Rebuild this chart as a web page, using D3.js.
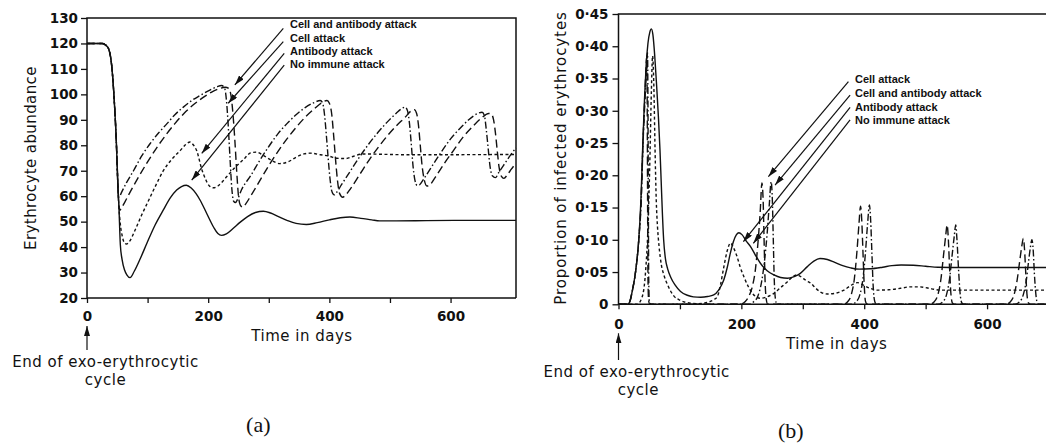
<!DOCTYPE html>
<html>
<head>
<meta charset="utf-8">
<script src="https://cdn.jsdelivr.net/npm/d3@7"></script>
<style>
  body { margin: 0; background: #fff; }
  svg { display: block; background: #fff; }
  .tick text { font-family: 'DejaVu Sans', sans-serif; font-weight: bold; font-size: 13.5px; fill: #111; }
  .tick line { stroke: #111; stroke-width: 1.3; }
  .axis-title { font-family: 'DejaVu Sans', sans-serif; font-size: 15px; fill: #111; letter-spacing: 0.5px; }
  .legend { font-family: 'Liberation Sans', Arial, sans-serif; font-weight: bold; font-size: 11px; fill: #111; }
  .caption { font-family: 'Liberation Serif', 'Times New Roman', serif; font-size: 22px; fill: #111; }
  .curve { fill: none; stroke: #111; stroke-width: 1.4; }
  .frame { fill: none; stroke: #111; stroke-width: 1.5; }
  .pointer { stroke: #111; stroke-width: 1.2; }
</style>
</head>
<body>
<svg width="1046" height="448"></svg>
<script>
// panel (a): erythrocyte abundance, [day, value]
const aNone = [[0,120],[25,120],[30,119.5],[35.6,117.9],[41,110.7],[45,97.5],[48.3,82],[50.5,67.6],[52.7,55.8],[55,41],[58,35],[62,31],[66,29],[71,28],[78,30.5],[88,35.5],[99,41.6],[112,48.5],[126,54.6],[138,59.5],[148,62.4],[156,63.8],[164,64.3],[172,63.2],[180,61],[187,58.3],[198,53],[209,47.8],[216,45.3],[222,44.6],[230,45.2],[241,47.3],[253,49.8],[265,52],[278,53.6],[291,54.1],[303,53.4],[316,52],[330,50.5],[345,49.3],[362,48.9],[380,49.6],[400,50.7],[418,51.5],[434,51.8],[452,51.3],[470,50.7],[483,50.3],[510,50.3],[560,50.4],[620,50.5],[708,50.5]];
const aAntibody = [[0,120],[25,120],[30,119.5],[35.6,117.9],[41,110.7],[45,97.5],[48.3,82],[50.5,67.6],[52.7,55.8],[55,49],[58,44.5],[61,42],[65,41.2],[70,42.2],[80,47],[90,52.5],[99,57],[112,63.5],[126,70],[140,74.5],[154,78],[163,80.3],[170,81.3],[176,80],[181,77.9],[189.5,70.5],[196,66.5],[202,64],[208.6,63.3],[216,64],[230,67.5],[245,71.5],[258,74.3],[270,77],[280,77.3],[291,76],[303,74.3],[318,72.8],[332,73.5],[345,75.3],[358,76.6],[368,76.9],[385,76.3],[400,75.7],[412,74.9],[427,74.8],[440,75.7],[455,76.6],[480,76.5],[520,76.3],[600,76.3],[708,76.4]];
const aCell = [[0,120],[25,120],[30,119.5],[35.6,117.9],[41,110.7],[45,97.5],[48.3,82],[50.5,67.6],[52,58],[54,54.4],[56,55],[62,57.5],[72,62],[85,67.5],[100,73.5],[115,79],[130,84],[145,88.5],[160,92.5],[175,95.8],[190,98.5],[205,100.8],[218,102.2],[228,102.8],[234,102.3],[238,99],[241,92],[244,82],[247,70],[250,60],[253,56.5],[257,55.7],[262,57],[270,60],[285,66],[300,72],[315,77.5],[330,82.5],[345,87],[360,91],[375,94.3],[388,96.8],[396,97.6],[400,96.5],[404,92],[407,84],[410,75],[413,67],[417,61],[422,59.6],[427,60.5],[435,63],[450,68.5],[465,74],[480,79],[495,83.5],[510,87.5],[525,91],[535,93.5],[540,94],[544,92.5],[547,88],[550,80],[553,72],[557,66],[561,64],[566,64.5],[575,67.5],[590,73],[605,78],[620,83],[635,87],[650,90.5],[663,92.5],[667,92.3],[671,90],[674,85],[677,78],[680,71.5],[684,67.8],[688,67],[694,68.5],[700,70.5],[708,73]];
const aBoth = [[0,120],[25,120],[30,119.5],[35.6,117.9],[41,110.7],[45,97.5],[48.3,82],[50,70],[51.5,60.5],[53,59.6],[57,61.5],[65,65.2],[77,70.1],[90,75.7],[104,80.6],[118,84.8],[132,88.5],[145,92],[159,95],[173,97.6],[187,99.6],[202,101.6],[214,102.9],[222,103.5],[227,102.5],[230,98],[233,88],[236,75],[239,63],[242,58],[245,57.5],[249,59],[255,62.5],[270,68],[285,74],[300,79.5],[315,84.5],[330,88.5],[345,92],[360,94.8],[375,96.8],[385,97.6],[389,96.5],[392,92],[395,84],[398,75],[401,67],[404,62],[408,60.5],[412,61.5],[420,64.5],[435,70],[450,75.5],[465,80.5],[480,85],[495,89],[510,92.5],[520,94.5],[525,95],[529,93.5],[532,89],[535,81],[538,72],[541,66.5],[545,64.2],[549,64.5],[555,66.5],[570,72],[585,77.5],[600,82.5],[615,86.5],[630,90],[645,92.5],[652,93],[656,91.5],[659,86],[662,79],[665,72],[669,68],[674,67.3],[680,69.5],[690,73],[700,76.5],[708,79]];

// panel (b): proportion of infected erythrocytes, [day, value]
const bNone = [[0,0],[15,0],[19,0.006],[22.3,0.02],[27.7,0.05],[33,0.1],[36.5,0.162],[39.6,0.25],[42.3,0.317],[45,0.37],[48,0.405],[51,0.422],[53.5,0.427],[56,0.418],[59,0.385],[62,0.34],[65,0.29],[67.5,0.24],[69.5,0.19],[71.5,0.14],[73.5,0.1],[76.5,0.07],[80,0.055],[85,0.042],[92,0.03],[101,0.02],[112,0.014],[122,0.0115],[134,0.011],[145,0.012],[155,0.0145],[163,0.022],[171.5,0.038],[177,0.057],[182,0.079],[187,0.097],[192,0.108],[196,0.111],[201,0.108],[208,0.098],[215,0.0895],[223,0.076],[231,0.0636],[242,0.052],[253,0.0455],[264,0.0415],[275,0.0404],[286,0.043],[296,0.048],[307,0.058],[318,0.067],[328,0.071],[340,0.0695],[352,0.065],[365,0.06],[378,0.0565],[392,0.0545],[410,0.055],[430,0.0575],[445,0.06],[460,0.061],[480,0.0605],[500,0.059],[520,0.0575],[560,0.057],[620,0.057],[700,0.057]];
const bAntibody = [[0,0],[30,0],[38,0.01],[44,0.05],[48,0.12],[51,0.22],[53.5,0.33],[55.5,0.385],[57.5,0.34],[59.5,0.24],[61.5,0.16],[63.5,0.12],[66,0.09],[70,0.06],[74,0.045],[80,0.03],[90,0.013],[101,0.006],[115,0.002],[130,0.001],[145,0.003],[155,0.007],[161,0.012],[166,0.03],[171.5,0.058],[177,0.083],[182.4,0.095],[187,0.088],[193,0.074],[198,0.058],[204,0.043],[211,0.028],[218,0.017],[225,0.011],[231,0.0093],[240,0.011],[253,0.017],[264,0.026],[275,0.035],[284,0.043],[291,0.0455],[298,0.042],[305,0.037],[313,0.0326],[321,0.025],[329,0.019],[340,0.016],[352,0.017],[367,0.022],[378,0.029],[389,0.0336],[398,0.03],[409,0.025],[421,0.022],[440,0.0225],[459,0.0248],[475,0.027],[490,0.027],[510,0.024],[524,0.022],[560,0.022],[620,0.022],[700,0.022]];
const bCell = [[0,0],[15,0],[19,0.006],[22.3,0.02],[27.7,0.05],[33,0.1],[36.7,0.16],[39.8,0.25],[42.5,0.315],[44.5,0.36],[46,0.385],[46.8,0.3],[47.4,0.15],[48,0.04],[49,0.006],[51,0],[198,0],[206,0.004],[212,0.012],[218,0.028],[223,0.055],[227,0.095],[230.5,0.14],[233.5,0.188],[235.5,0.16],[237,0.1],[238.5,0.04],[240.5,0.008],[243,0],[366,0],[373,0.004],[379,0.015],[384,0.04],[388,0.08],[391.5,0.125],[394,0.152],[396,0.13],[398,0.08],[400,0.03],[402,0.005],[405,0],[506,0],[514,0.004],[520,0.015],[525,0.04],[529,0.075],[532.5,0.105],[535,0.123],[537,0.1],[539,0.055],[541,0.018],[543.5,0.002],[547,0],[630,0],[638,0.004],[644,0.015],[649,0.038],[653,0.066],[656.5,0.09],[659,0.102],[661,0.085],[663,0.048],[665,0.015],[667.5,0.002],[671,0],[700,0]];
const bBoth = [[0,0],[15,0],[19,0.006],[22.3,0.02],[27.7,0.05],[33,0.1],[37,0.16],[40,0.25],[43,0.315],[45.5,0.36],[47.2,0.39],[48,0.3],[48.6,0.15],[49.2,0.04],[50.2,0.005],[53,0],[212,0],[220,0.004],[227,0.013],[233,0.035],[238,0.07],[242,0.11],[245.5,0.155],[248.5,0.19],[250.5,0.16],[252,0.1],[253.5,0.04],[255.5,0.008],[258,0],[379,0],[387,0.004],[393,0.015],[398,0.04],[402,0.08],[405.5,0.125],[408.5,0.154],[410.5,0.13],[412.5,0.08],[414.5,0.03],[417,0.005],[420,0],[520,0],[528,0.004],[534,0.015],[539,0.04],[543,0.075],[546.5,0.105],[549,0.123],[551,0.1],[553.5,0.055],[556,0.018],[559,0.002],[562,0],[645,0],[653,0.004],[659,0.015],[664,0.038],[667.5,0.066],[670.5,0.088],[673,0.1],[675,0.085],[677,0.048],[679.5,0.015],[682,0.002],[685,0],[700,0]];

// ticks
const aXTicks = [0, 100, 200, 300, 400, 500, 600];
const aYTicks = [20, 30, 40, 50, 60, 70, 80, 90, 100, 110, 120, 130];
const bXTicks = [0, 100, 200, 300, 400, 500, 600];
const bYTicks = [0, 0.05, 0.1, 0.15, 0.2, 0.25, 0.3, 0.35, 0.4, 0.45];
const xLabels = [0, 200, 400, 600];

// legends: label anchor and pointer lines, in data units
const aLegend = ['Cell and antibody attack', 'Cell attack', 'Antibody attack', 'No immune attack'];
const aLegendPos = [[335, 126], [335, 120.7], [335, 115.5], [335, 110.3]];
const aArrows = [[[324, 125.9], [244, 103.7]], [[324, 120.7], [233, 96.5]], [[325.5, 116.1], [189.3, 76.8]], [[325.5, 111.5], [172.8, 66.3]]];
const bLegend = ['Cell attack', 'Cell and antibody attack', 'Antibody attack', 'No immune attack'];
const bLegendPos = [[385, 0.3423], [385, 0.3206], [385, 0.2997], [385, 0.2795]];
const bArrows = [[[374.3, 0.3451], [244, 0.1978]], [[377, 0.3244], [254.9, 0.1849]], [[377, 0.3054], [203.3, 0.097]], [[377, 0.2857], [219.5, 0.0946]]];

const dashes = {
  none: null,
  antibody: '3,2.5',
  cell: '8,4',
  both: '7,2.5,1.5,2.5'
};

const svg = d3.select('svg');

svg.append('defs').append('marker')
    .attr('id', 'head')
    .attr('viewBox', '0 0 10 6')
    .attr('refX', 10)
    .attr('refY', 3)
    .attr('markerWidth', 10)
    .attr('markerHeight', 6)
    .attr('markerUnits', 'userSpaceOnUse')
    .attr('orient', 'auto')
  .append('path')
    .attr('d', 'M0,0L10,3L0,6Z')
    .attr('fill', '#111');

const panel = (selection, props) => {
  const {
    x, y, yFormat, yTicks, xTicks, xPad, yTitle, yTitlePos, xTitlePos,
    series, legend, legendPos, arrows, notePos, caption, captionPos, boxed
  } = props;

  const [x0, x1] = x.range();
  const [yB, yT] = y.range();
  const g = selection.append('g');

  g.append('g')
      .attr('transform', `translate(${x0},0)`)
      .call(d3.axisLeft(y).tickValues(yTicks).tickSize(6).tickPadding(props.yPad).tickFormat(yFormat))
      .call(s => s.select('.domain').remove());

  g.append('g')
      .attr('transform', `translate(0,${yB})`)
      .call(d3.axisBottom(x).tickValues(xTicks).tickSize(5).tickPadding(xPad)
        .tickFormat(d => xLabels.includes(d) ? d : ''))
      .call(s => s.select('.domain').remove());

  const frame = [[x0, yT], [x0, yB], [x1, yB]];
  g.append('path')
      .attr('class', 'frame')
      .attr('d', boxed
        ? d3.line()([[x1, yB], [x1, yT], [x0, yT], [x0, yB], [x1, yB]])
        : d3.line()([[1046, yT], ...frame]));

  const line = d3.line()
    .x(d => x(d[0]))
    .y(d => y(d[1]))
    .curve(d3.curveMonotoneX);

  g.selectAll('.curve').data(series)
    .enter().append('path')
      .attr('class', 'curve')
      .attr('d', d => line(d.values))
      .attr('stroke-dasharray', d => dashes[d.style]);

  g.selectAll('.legend').data(legend)
    .enter().append('text')
      .attr('class', 'legend')
      .attr('x', (d, i) => x(legendPos[i][0]))
      .attr('y', (d, i) => y(legendPos[i][1]))
      .text(d => d);

  g.selectAll('.pointer').data(arrows)
    .enter().append('line')
      .attr('class', 'pointer')
      .attr('x1', d => x(d[0][0]))
      .attr('y1', d => y(d[0][1]))
      .attr('x2', d => x(d[1][0]))
      .attr('y2', d => y(d[1][1]))
      .attr('marker-end', 'url(#head)');

  g.append('text')
      .attr('class', 'axis-title')
      .attr('transform', `translate(${yTitlePos[0]},${yTitlePos[1]}) rotate(-90)`)
      .attr('text-anchor', 'middle')
      .style('letter-spacing', props.yTitleSpacing)
      .text(yTitle);

  g.append('text')
      .attr('class', 'axis-title')
      .attr('x', xTitlePos[0])
      .attr('y', xTitlePos[1])
      .attr('text-anchor', 'middle')
      .text('Time in days');

  // end of exo-erythrocytic cycle marker
  g.append('line')
      .attr('class', 'pointer')
      .attr('x1', x(0))
      .attr('x2', x(0))
      .attr('y1', notePos[2])
      .attr('y2', notePos[3])
      .attr('marker-end', 'url(#head)');

  g.append('text')
      .attr('class', 'axis-title')
      .attr('x', notePos[0])
      .attr('y', notePos[4])
      .attr('text-anchor', 'middle')
      .text('End of exo-erythrocytic');

  g.append('text')
      .attr('class', 'axis-title')
      .attr('x', notePos[1])
      .attr('y', notePos[5])
      .attr('text-anchor', 'middle')
      .text('cycle');

  g.append('text')
      .attr('class', 'caption')
      .attr('x', captionPos[0])
      .attr('y', captionPos[1])
      .attr('text-anchor', 'middle')
      .text(caption);
};

svg.call(panel, {
  x: d3.scaleLinear().domain([0, 708]).range([87, 516]),
  y: d3.scaleLinear().domain([20, 130]).range([298, 18]),
  yFormat: d3.format('d'),
  yTicks: aYTicks,
  xTicks: aXTicks,
  xPad: 8.5,
  yPad: 3,
  yTitle: 'Erythrocyte abundance',
  yTitlePos: [36, 158],
  yTitleSpacing: '0.4px',
  xTitlePos: [302, 340.7],
  series: [
    { style: 'none', values: aNone },
    { style: 'antibody', values: aAntibody },
    { style: 'cell', values: aCell },
    { style: 'both', values: aBoth }
  ],
  legend: aLegend,
  legendPos: aLegendPos,
  arrows: aArrows,
  notePos: [105.5, 105.5, 350, 326, 366.7, 384.8],
  caption: '(a)',
  captionPos: [258.3, 431.7],
  boxed: true
});

svg.call(panel, {
  x: d3.scaleLinear().domain([0, 700]).range([618.5, 1048.5]),
  y: d3.scaleLinear().domain([0, 0.45]).range([304.3, 14]),
  yFormat: d => d === 0 ? '0' : d3.format('.2f')(d).replace('.', '\u00b7'),
  yTicks: bYTicks,
  xTicks: bXTicks,
  xPad: 10,
  yPad: 4,
  yTitle: 'Proportion of infected erythrocytes',
  yTitlePos: [565.5, 158],
  yTitleSpacing: '0.9px',
  xTitlePos: [836.7, 349],
  series: [
    { style: 'none', values: bNone },
    { style: 'antibody', values: bAntibody },
    { style: 'cell', values: bCell },
    { style: 'both', values: bBoth }
  ],
  legend: bLegend,
  legendPos: bLegendPos,
  arrows: bArrows,
  notePos: [636.7, 638.3, 360, 333.3, 376.7, 394.8],
  caption: '(b)',
  captionPos: [790.8, 438.3],
  boxed: false
});
</script>
</body>
</html>
